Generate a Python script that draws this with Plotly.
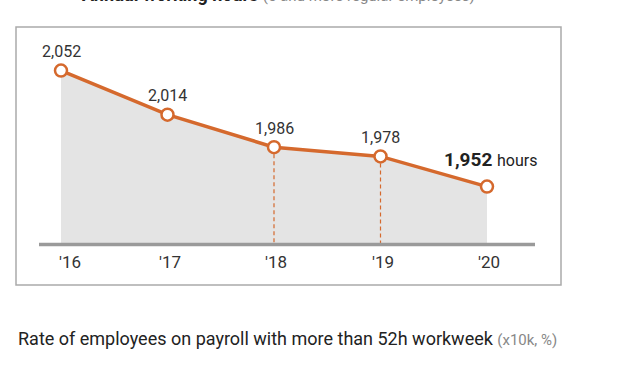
import plotly.graph_objects as go

years = [2016, 2017, 2018, 2019, 2020]
tick_labels = ["'16", "'17", "'18", "'19", "'20"]
hours = [2052, 2014, 1986, 1978, 1952]
value_labels = ["2,052", "2,014", "1,986", "1,978", "1,952"]
dashed_years = [2018, 2019]
base_value = 1902

ORANGE = "#d5692d"
FILL = "#e4e4e4"
TXT = "#333333"
FONT = "Roboto"

W, H = 625, 365
# pixel mapping: x px = 61 + (year-2016)*106.5 ; y px = 70.6 + (2052-v)*1.16
x_range = [2016 - 61 / 106.5, 2016 + (W - 61) / 106.5]
y_range = [2052 - (H - 70.6) / 1.16, 2052 + 70.6 / 1.16]

fig = go.Figure()

# grey area
fig.add_trace(go.Scatter(x=years, y=[base_value] * len(years), mode="lines",
                         line=dict(width=0, color=FILL), hoverinfo="skip", showlegend=False))
fig.add_trace(go.Scatter(x=years, y=hours, mode="lines", fill="tonexty",
                         fillcolor=FILL, line=dict(width=0, color=FILL),
                         hoverinfo="skip", showlegend=False))

# dashed drop lines
for yr in dashed_years:
    v = hours[years.index(yr)]
    fig.add_trace(go.Scatter(x=[yr, yr], y=[v, base_value], mode="lines",
                             line=dict(color=ORANGE, width=1.2, dash="4px,3px"),
                             hoverinfo="skip", showlegend=False))

# main line
fig.add_trace(go.Scatter(x=years, y=hours, mode="lines+markers",
                         line=dict(color=ORANGE, width=3.5),
                         marker=dict(size=12, color="white", line=dict(color=ORANGE, width=2.5)),
                         showlegend=False))

shapes = [
    # outer box
    dict(type="rect", xref="paper", yref="paper",
         x0=16 / W, x1=561 / W, y0=1 - 285 / H, y1=1 - 27 / H,
         line=dict(color="#aaaaaa", width=1.5), fillcolor="rgba(0,0,0,0)", layer="below"),
    # baseline
    dict(type="line", xref="paper", yref="y",
         x0=39 / W, x1=535 / W, y0=base_value, y1=base_value,
         line=dict(color="#9a9a9a", width=3.5)),
]

annotations = []
for i, (yr, v, lab) in enumerate(zip(years, hours, value_labels)):
    if i == len(years) - 1:
        annotations.append(dict(x=yr, y=v, xref="x", yref="y", yshift=27, xshift=3,
                                text=f"<b>{lab}</b> <span style='font-size:16px'>hours</span>",
                                showarrow=False, font=dict(family=FONT, size=19, color="#222222"),
                                xanchor="center", yanchor="middle"))
    else:
        annotations.append(dict(x=yr, y=v, xref="x", yref="y", yshift=19,
                                text=lab, showarrow=False,
                                font=dict(family=FONT, size=16, color=TXT),
                                xanchor="center", yanchor="middle"))
    annotations.append(dict(x=yr, y=base_value, xref="x", yref="y", yshift=-17,
                            xshift=9 if i == 0 else 2,
                            text=tick_labels[i], showarrow=False,
                            font=dict(family=FONT, size=17, color=TXT),
                            xanchor="center", yanchor="middle"))

# top title (cropped at the top edge, as in the reference)
annotations.append(dict(x=80 / W, y=1 + 5 / H, xref="paper", yref="paper",
                        text="<b>Annual working hours</b> <span style='color:#888888;font-size:15px'>(5 and more regular employees)</span>",
                        showarrow=False, xanchor="left", yanchor="middle",
                        font=dict(family=FONT, size=18, color="#222222")))
# bottom heading
annotations.append(dict(x=16 / W, y=1 - 338 / H, xref="paper", yref="paper",
                        text="Rate of employees on payroll with more than 52h workweek <span style='color:#888888;font-size:15px'>(x10k, %)</span>",
                        showarrow=False, xanchor="left", yanchor="middle",
                        font=dict(family=FONT, size=18, color="#222222")))

fig.update_layout(
    width=W, height=H,
    margin=dict(l=0, r=0, t=0, b=0),
    paper_bgcolor="white", plot_bgcolor="white",
    xaxis=dict(range=x_range, visible=False, fixedrange=True),
    yaxis=dict(range=y_range, visible=False, fixedrange=True),
    shapes=shapes, annotations=annotations,
)

fig.write_html("out.html", config={"displayModeBar": False},
               post_script="document.body.style.margin='0';")
